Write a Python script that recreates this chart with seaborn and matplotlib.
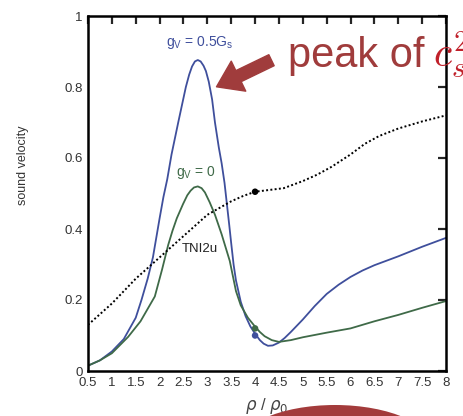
import numpy as np
import pandas as pd
import seaborn as sns
import matplotlib
matplotlib.use("Agg")
import matplotlib.pyplot as plt
from matplotlib.patches import Ellipse, FancyArrowPatch

# ---- data ----
blue_x = [0.5, 0.75, 1.0, 1.25, 1.5, 1.62, 1.75, 1.86, 2.0, 2.08, 2.16, 2.25, 2.39, 2.47, 2.55, 2.62,
          2.68, 2.74, 2.8, 2.86, 2.92, 2.97, 3.03, 3.1, 3.16, 3.24, 3.3, 3.36, 3.41, 3.46, 3.5, 3.55,
          3.6, 3.7, 3.8, 3.9, 4.0, 4.1, 4.18, 4.27, 4.37, 4.5, 4.62, 4.75, 5.0, 5.25, 5.5, 5.75, 6.0,
          6.25, 6.5, 7.0, 7.5, 8.0]
blue_y = [0.015, 0.03, 0.055, 0.09, 0.15, 0.2, 0.26, 0.32, 0.43, 0.49, 0.54, 0.61, 0.70, 0.75, 0.80, 0.835,
          0.858, 0.872, 0.876, 0.872, 0.86, 0.845, 0.815, 0.765, 0.70, 0.63, 0.585, 0.53, 0.47, 0.41, 0.36, 0.30,
          0.255, 0.195, 0.155, 0.126, 0.105, 0.087, 0.077, 0.071, 0.072, 0.08, 0.093, 0.11, 0.145, 0.183, 0.217,
          0.243, 0.265, 0.283, 0.298, 0.323, 0.35, 0.375]

green_x = [0.5, 0.75, 1.0, 1.34, 1.6, 1.9, 1.97, 2.05, 2.18, 2.27, 2.36, 2.49, 2.58, 2.65, 2.72, 2.8,
           2.88, 2.95, 3.05, 3.16, 3.3, 3.47, 3.6, 3.7, 3.85, 4.0, 4.1, 4.2, 4.35, 4.5, 4.75, 5.0,
           5.5, 6.0, 6.5, 7.0, 7.5, 8.0]
green_y = [0.015, 0.03, 0.05, 0.096, 0.14, 0.21, 0.245, 0.285, 0.355, 0.395, 0.43, 0.47, 0.495, 0.508, 0.517, 0.52,
           0.515, 0.503, 0.475, 0.44, 0.385, 0.31, 0.225, 0.185, 0.15, 0.125, 0.11, 0.098, 0.087, 0.082, 0.087, 0.095,
           0.108, 0.12, 0.14, 0.158, 0.178, 0.197]

tni_x = [0.5, 1.0, 1.5, 2.0, 2.5, 3.0, 3.5, 3.75, 4.0, 4.3, 4.6, 5.0, 5.3, 5.6, 6.0, 6.3, 6.6, 7.0, 7.5, 8.0]
tni_y = [0.13, 0.19, 0.26, 0.32, 0.38, 0.44, 0.478, 0.493, 0.505, 0.51, 0.515, 0.535, 0.553, 0.575, 0.61, 0.64,
         0.662, 0.683, 0.703, 0.72]

dot_x = [4.0, 4.0, 4.0]
dot_y = [0.505, 0.12, 0.10]

xticks = [0.5, 1, 1.5, 2, 2.5, 3, 3.5, 4, 4.5, 5, 5.5, 6, 6.5, 7, 7.5, 8]
xtick_labels = ["0.5", "1", "1.5", "2", "2.5", "3", "3.5", "4", "4.5", "5", "5.5", "6", "6.5", "7", "7.5", "8"]
yticks = [0, 0.2, 0.4, 0.6, 0.8, 1]
ytick_labels = ["0", "0.2", "0.4", "0.6", "0.8", "1"]

BLUE = "#3f4f9c"
GREEN = "#3f6a48"
RED = "#a03c3c"

sns.set_style("white")
plt.rcParams["font.family"] = ["Liberation Sans", "DejaVu Sans"]

fig = plt.figure(figsize=(4.64, 4.16), dpi=100)
ax = fig.add_axes([88/464, 45/416, 358/464, 355/416])

sns.lineplot(x=blue_x, y=blue_y, ax=ax, color=BLUE, linewidth=1.3, sort=False)
sns.lineplot(x=green_x, y=green_y, ax=ax, color=GREEN, linewidth=1.3, sort=False)
sns.lineplot(x=tni_x, y=tni_y, ax=ax, color="black", linewidth=1.4, linestyle=(0, (1, 1.2)), sort=False)
sns.scatterplot(x=dot_x, y=dot_y, ax=ax, color=["black", GREEN, BLUE], s=22, edgecolor="none", zorder=5)

ax.set_xlim(0.5, 8)
ax.set_ylim(0, 1)
ax.set_xticks(xticks)
ax.set_xticklabels(xtick_labels)
ax.set_yticks(yticks)
ax.set_yticklabels(ytick_labels)
ax.tick_params(direction="in", top=True, right=True, labeltop=False, labelright=False,
               length=6, width=1.6, labelsize=9.5, labelcolor="#333333", pad=4)
for s in ax.spines.values():
    s.set_linewidth(1.8)
    s.set_color("black")

ax.set_ylabel("sound velocity", fontsize=9, color="#333333")
ax.yaxis.set_label_coords(-0.165, 0.58)
ax.set_xlabel(r"$\rho$ / $\rho_0$", fontsize=12, color="#444444", labelpad=5)

ax.text(2.85, 0.925, r"g$_\mathregular{V}$ = 0.5G$_\mathregular{s}$", color=BLUE, fontsize=10, ha="center", va="center")
ax.text(2.75, 0.56, r"g$_\mathregular{V}$ = 0", color=GREEN, fontsize=10, ha="center", va="center")
ax.text(2.85, 0.345, "TNI2u", color="#222222", fontsize=9.5, ha="center", va="center")

# annotation overlay
fig.text(288/464, (416-67)/416, "peak of", color=RED, fontsize=30, ha="left", va="baseline")
fig.text(433/464, (416-67)/416, r"$c_s^2$", color="#c0202a", fontsize=30, ha="left", va="baseline",
         math_fontfamily="cm")

arrow = FancyArrowPatch(posA=(2.74, 3.57), posB=(2.14, 3.28), transform=fig.dpi_scale_trans,
                        arrowstyle="simple,head_length=1.1,head_width=1.5,tail_width=0.55",
                        mutation_scale=16, color=RED, zorder=10)
fig.patches.append(arrow)

ell = Ellipse((3.35, -0.34), 2.0, 0.9, transform=fig.dpi_scale_trans, facecolor="#a33b3b",
              edgecolor="none", zorder=10)
fig.patches.append(ell)

fig.savefig("out.png", dpi=100)
